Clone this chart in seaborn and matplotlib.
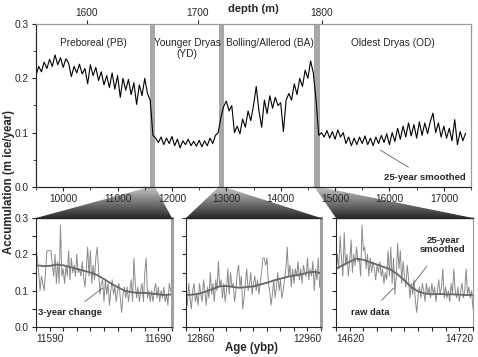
import numpy as np
import matplotlib
matplotlib.use('Agg')
import matplotlib.pyplot as plt
from matplotlib.patches import Polygon
from matplotlib.colors import LinearSegmentedColormap
from matplotlib.ticker import MultipleLocator, FormatStrFormatter
import seaborn as sns

# ---- top panel: 25-year smoothed accumulation, one value every 50 years from 9500 ybp
top_start, top_step = 9500, 50
acc_smooth = [
    .205, .222, .212, .230, .218, .235, .222, .243, .225, .238,
    .220, .236, .228, .203, .222, .210, .226, .208, .218, .190,
    .225, .205, .220, .196, .212, .188, .205, .183, .210, .180,
    .205, .165, .200, .178, .198, .170, .192, .152, .188, .168,
    .200, .172, .160, .095,
    .090, .082, .092, .078, .090, .080, .093, .076, .088, .072,
    .085, .078, .088, .076, .084, .075, .086, .074, .085, .076,
    .090, .080, .095, .100, .128, .148,
    .158, .140, .150, .100, .112, .098, .125, .110, .140, .122,
    .150, .185, .140, .110, .160, .135, .168, .145, .165, .150,
    .155, .102, .160, .172, .160, .190, .170, .200, .185, .215,
    .200, .232, .210, .160, .095,
    .100, .092, .104, .090, .102, .088, .105, .092, .100, .080,
    .092, .076, .090, .078, .092, .080, .094, .078, .090, .076,
    .092, .080, .095, .082, .098, .078, .100, .084, .108, .088,
    .112, .092, .118, .094, .115, .090, .120, .095, .118, .098,
    .120, .136, .100, .118, .092, .112, .090, .108, .085, .124,
    .078, .102, .085, .099,
]

# climate periods and their label positions
periods = ['Preboreal (PB)', 'Younger Dryas\n(YD)', 'Bolling/Allerod (BA)', 'Oldest Dryas (OD)']
period_x = [10550, 12280, 13800, 16060]

# transitions shown in detail (start age, end age)
transitions = [(11590, 11690), (12860, 12960), (14620, 14720)]

# depth scale on the top axis
depth_labels = ['1600', '1700', '1800']
depth_ages = [10437, 12478, 14757]

# ---- bottom panels: yearly raw data and 25-year smoothed (every 5 years)
raw_pb_yd = [
    .22, .19, .15, .10, .14, .12, .10, .15, .21, .21,
    .21, .21, .17, .14, .20, .12, .18, .12, .28, .14,
    .16, .12, .17, .14, .21, .13, .19, .15, .17, .14,
    .20, .15, .16, .14, .18, .14, .11, .16, .22, .14,
    .21, .12, .17, .13, .19, .22, .16, .09, .12, .13,
    .07, .13, .09, .12, .06, .10, .13, .09, .11, .07,
    .10, .12, .08, .04, .09, .11, .08, .11, .07, .10,
    .13, .07, .19, .12, .08, .11, .07, .10, .12, .07,
    .15, .19, .08, .10, .07, .10, .07, .10, .12, .08,
    .11, .07, .10, .08, .11, .07, .09, .06, .12, .10, .09,
]
smooth_pb_yd = [.170, .168, .168, .172, .170, .165, .160, .155, .150, .143, .132,
                .120, .110, .100, .096, .094, .094, .092, .090, .088, .090]

raw_yd_ba = [
    .10, .06, .12, .08, .05, .10, .12, .07, .09, .06,
    .12, .09, .07, .13, .10, .06, .11, .08, .15, .09,
    .12, .07, .13, .10, .18, .11, .13, .08, .12, .07,
    .10, .16, .09, .15, .11, .12, .07, .10, .15, .17,
    .11, .14, .05, .08, .12, .16, .10, .12, .15, .09,
    .12, .14, .10, .13, .09, .12, .15, .19, .19, .17,
    .19, .12, .10, .06, .09, .13, .08, .11, .15, .10,
    .13, .08, .10, .13, .16, .22, .14, .17, .11, .16,
    .12, .16, .14, .18, .13, .16, .12, .17, .15, .14,
    .19, .13, .16, .14, .18, .10, .16, .13, .19, .11, .14,
]
smooth_yd_ba = [.088, .089, .092, .098, .105, .112, .113, .110, .108, .110, .112,
                .117, .122, .128, .133, .138, .142, .144, .150, .152, .148]

raw_ba_od = [
    .15, .20, .16, .25, .19, .14, .26, .17, .20, .14,
    .18, .24, .15, .20, .17, .22, .18, .19, .14, .28,
    .21, .22, .16, .20, .14, .19, .15, .18, .16, .13,
    .17, .15, .18, .14, .16, .12, .15, .13, .21, .14,
    .22, .12, .19, .09, .14, .23, .16, .21, .12, .18,
    .14, .11, .17, .13, .08, .12, .09, .13, .07, .04,
    .09, .11, .08, .12, .10, .07, .12, .09, .11, .08,
    .12, .09, .11, .07, .10, .13, .09, .11, .16, .08,
    .11, .08, .10, .07, .12, .09, .16, .10, .08, .11,
    .07, .10, .12, .08, .10, .16, .09, .11, .08, .10, .05,
]
smooth_ba_od = [.160, .170, .180, .188, .185, .178, .172, .165, .158, .145, .128,
                .110, .098, .092, .090, .091, .090, .090, .089, .088, .088]

raw_sets = [raw_pb_yd, raw_yd_ba, raw_ba_od]
smooth_sets = [smooth_pb_yd, smooth_yd_ba, smooth_ba_od]

sns.set_style('ticks')
plt.rcParams['font.family'] = ['Liberation Sans', 'DejaVu Sans']
plt.rcParams['font.size'] = 7.3
plt.rcParams['xtick.major.size'] = 3
plt.rcParams['ytick.major.size'] = 3
plt.rcParams['xtick.minor.size'] = 2
plt.rcParams['ytick.minor.size'] = 2
plt.rcParams['xtick.major.pad'] = 2
plt.rcParams['ytick.major.pad'] = 2

band_col = '#a8a8a8'
frame_col = '#9a9a9a'

fig = plt.figure(figsize=(4.78, 3.57), dpi=100)

# ---- top panel
ax = fig.add_axes([0.0753, 0.4762, 0.9101, 0.4566])
top_age = top_start + top_step * np.arange(len(acc_smooth))
for a0, a1 in transitions:
    ax.axvspan(a0, a1, color=band_col, lw=0, zorder=1)
sns.lineplot(x=top_age, y=acc_smooth, ax=ax, color='black', lw=0.8, zorder=3)
ax.set_xlim(9500, 17500)
ax.set_ylim(0, 0.3)
ax.set_xticks([10000, 11000, 12000, 13000, 14000, 15000, 16000, 17000])
ax.xaxis.set_minor_locator(MultipleLocator(500))
ax.yaxis.set_major_locator(MultipleLocator(0.1))
ax.yaxis.set_minor_locator(MultipleLocator(0.05))
ax.yaxis.set_major_formatter(FormatStrFormatter('%.1f'))
ax.tick_params(labelsize=7.3)
for name in ['top', 'right']:
    ax.spines[name].set_color(frame_col)
    ax.spines[name].set_linewidth(0.8)
for lab, x in zip(periods, period_x):
    ax.text(x, 0.255 if '\n' in lab else 0.265, lab, ha='center', va='center',
            fontsize=7.3, linespacing=1.1)
ax.annotate('25-year smoothed', xy=(15830, 0.068), xytext=(16650, 0.018),
            ha='center', va='center', fontsize=6.8, fontweight='bold',
            arrowprops=dict(arrowstyle='-', color='#444444', lw=0.5,
                            shrinkA=3, shrinkB=0))

axd = ax.twiny()
axd.set_xlim(ax.get_xlim())
axd.set_xticks(depth_ages)
axd.set_xticklabels(depth_labels)
axd.tick_params(labelsize=7.3, pad=1)
for name in ['top', 'right']:
    axd.spines[name].set_color(frame_col)
    axd.spines[name].set_linewidth(0.8)
fig.text(0.530, 0.976, 'depth (m)', ha='center', va='center', fontsize=8,
         fontweight='bold')

# ---- bottom panels
lefts = [0.0753, 0.3891, 0.7029]
widths = [0.2845, 0.2824, 0.2866]
bottoms = []
for i, ((a0, a1), raw, smo) in enumerate(zip(transitions, raw_sets, smooth_sets)):
    axb = fig.add_axes([lefts[i], 0.0840, widths[i], 0.3053])
    yrs = a0 + np.arange(len(raw))
    yrs_s = a0 + 5 * np.arange(len(smo))
    sns.lineplot(x=yrs, y=raw, ax=axb, color='#8a8a8a', lw=0.7)
    sns.lineplot(x=yrs_s, y=smo, ax=axb, color='#666666', lw=1.3)
    axb.set_xlim(a0, a1)
    axb.set_ylim(0, 0.3)
    ticks = np.arange(a0, a1 + 1, 10)
    axb.set_xticks(ticks)
    axb.set_xticklabels([str(t) if t in (a0, a1) else '' for t in ticks])
    labs = axb.get_xticklabels()
    labs[0].set_ha('left')
    labs[-1].set_ha('right')
    axb.set_yticks([0, 0.05, 0.1, 0.15, 0.2, 0.25, 0.3])
    if i == 0:
        axb.set_yticklabels(['0.0', '', '0.1', '', '0.2', '', '0.3'])
    else:
        axb.set_yticklabels([])
    axb.tick_params(labelsize=7.3)
    axb.spines['right'].set_color('#a0a0a0')
    axb.spines['right'].set_linewidth(2.2 if i < 2 else 0.9)
    axb.spines['top'].set_linewidth(1.0)
    bottoms.append(axb)

bottoms[0].annotate('3-year change', xy=(11639, 0.107), xytext=(11615, 0.039),
                    ha='center', va='center', fontsize=6.8, fontweight='bold',
                    arrowprops=dict(arrowstyle='-', color='#444444', lw=0.5,
                                    shrinkA=4, shrinkB=0))
bottoms[2].annotate('raw data', xy=(14662, 0.107), xytext=(14645, 0.041),
                    ha='center', va='center', fontsize=6.8, fontweight='bold',
                    arrowprops=dict(arrowstyle='-', color='#444444', lw=0.5,
                                    shrinkA=4, shrinkB=0))
bottoms[2].annotate('25-year\nsmoothed', xy=(14676, 0.116), xytext=(14698, 0.226),
                    ha='center', va='center', fontsize=6.8, fontweight='bold',
                    linespacing=1.0,
                    arrowprops=dict(arrowstyle='-', color='#444444', lw=0.5,
                                    shrinkA=8, shrinkB=0))

# ---- shaded connectors from the bands to the detail panels
ov = fig.add_axes([0, 0, 1, 1], zorder=-5)
ov.set_xlim(0, 1)
ov.set_ylim(0, 1)
ov.axis('off')
to_fig = fig.transFigure.inverted()
cmap = LinearSegmentedColormap.from_list('conn', ['#c8c8c8', '#2a2a2a'])
grad = np.linspace(1, 0, 64)[:, None]
for (a0, a1), axb in zip(transitions, bottoms):
    top_pts = to_fig.transform(ax.transData.transform([(a0, 0), (a1, 0)]))
    bot_pts = to_fig.transform(axb.transAxes.transform([(0, 1), (1, 1)]))
    pts = [bot_pts[0], top_pts[0], top_pts[1], bot_pts[1]]
    poly = Polygon(pts, closed=True, facecolor='none', edgecolor='none',
                   transform=ov.transData)
    ov.add_patch(poly)
    xs = [p[0] for p in pts]
    ys = [p[1] for p in pts]
    im = ov.imshow(grad, cmap=cmap, aspect='auto', origin='lower',
                   extent=(min(xs), max(xs), min(ys), max(ys)), vmin=0, vmax=1)
    im.set_clip_path(poly)

fig.text(0.019, 0.49, 'Accumulation (m ice/year)', rotation=90, ha='center',
         va='center', fontsize=8.3, fontweight='bold')
fig.text(0.527, 0.026, 'Age (ybp)', ha='center', va='center', fontsize=8.3,
         fontweight='bold')

plt.savefig('out.png', dpi=100)
